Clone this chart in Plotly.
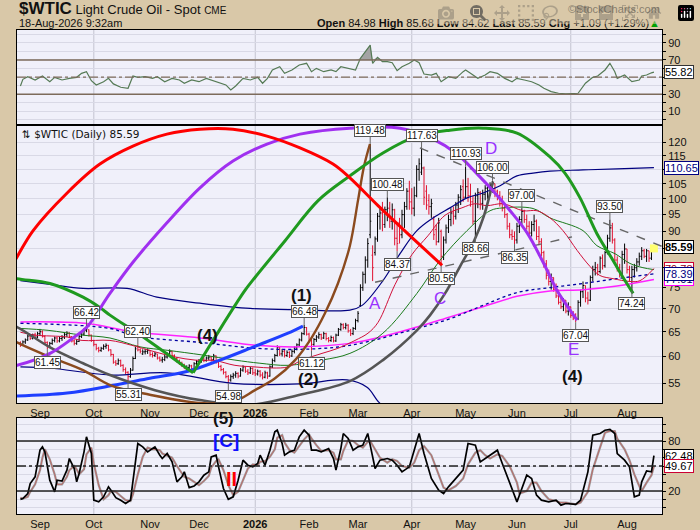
import numpy as np
import pandas as pd
import plotly.graph_objects as go

# trading days on the chart (bar index 0 = 20-Aug-2025)
dates = pd.bdate_range('2025-08-20', '2026-08-18')

opens = [
    62.7, 62.3, 62.9, 63.3, 64.1, 63.7, 64.3, 63.9, 64.6, 65.0,
    64.0, 62.8, 62.0, 62.6, 63.2, 63.7, 63.1, 63.6, 63.9, 64.4,
    64.7, 64.0, 63.1, 62.6, 63.0, 64.0, 64.5, 65.3, 65.4, 64.3,
    63.2, 62.4, 61.6, 61.2, 61.6, 62.0, 62.2, 61.3, 60.4, 58.9,
    58.6, 59.2, 58.3, 57.5, 57.0, 56.2, 57.4, 59.6, 62.0, 61.3,
    60.5, 60.9, 61.0, 61.2, 60.4, 60.2, 60.5, 59.7, 59.3, 59.4,
    59.9, 60.4, 61.0, 60.2, 59.6, 59.1, 58.7, 58.3, 57.6, 57.9,
    58.2, 57.6, 58.6, 59.0, 59.2, 59.5, 59.2, 59.7, 59.9, 59.4,
    60.1, 58.9, 58.1, 57.5, 57.0, 56.2, 55.6, 56.2, 56.5, 56.8,
    56.3, 57.4, 58.0, 57.2, 56.9, 57.7, 56.9, 56.7, 57.2, 56.5,
    56.1, 56.9, 56.3, 58.0, 59.2, 60.2, 61.8, 60.5, 61.0, 60.2,
    60.8, 60.1, 61.0, 61.7, 62.3, 63.3, 64.6, 65.9, 64.5, 63.2,
    62.4, 63.4, 63.9, 64.4, 63.7, 64.6, 63.6, 63.2, 63.8, 63.1,
    64.3, 65.5, 66.5, 65.9, 66.4, 65.2, 64.6, 65.7, 67.4, 70.8,
    75.0, 78.3, 82.0, 89.0, 83.3, 84.0, 87.8, 94.5, 95.5, 92.0,
    96.5, 97.0, 93.0, 96.5, 88.0, 92.5, 89.0, 95.0, 97.5, 102.5,
    99.0, 97.0, 101.0, 110.0, 109.0, 110.5, 102.5, 99.5, 97.5, 93.5,
    90.5, 87.0, 90.0, 83.0, 87.5, 91.0, 93.5, 95.5, 94.5, 98.0,
    100.5, 104.0, 100.5, 104.0, 101.0, 99.0, 93.0, 101.0, 102.0, 98.5,
    101.5, 103.5, 104.0, 104.5, 105.0, 102.5, 101.0, 98.5, 97.0, 95.0,
    91.5, 89.0, 88.5, 87.5, 91.5, 93.5, 96.0, 93.5, 91.5, 89.5,
    92.0, 93.0, 88.5, 87.0, 84.0, 81.0, 78.0, 76.5, 77.5, 74.5,
    73.0, 71.5, 70.5, 72.0, 69.5, 70.5, 68.5, 68.0, 67.8, 71.5,
    74.0, 75.5, 72.5, 72.0, 77.5, 79.5, 80.0, 79.0, 82.5, 80.5,
    84.0, 88.0, 91.0, 87.5, 82.0, 80.0, 78.5, 83.5, 85.0, 79.5,
    77.5, 79.5, 80.0, 81.5, 83.0, 84.5, 83.0, 84.5, 82.5, 84.98,
]
highs = [
    63.0, 63.2, 63.6, 64.4, 64.5, 64.6, 64.8, 65.0, 65.6, 65.3,
    64.2, 63.0, 62.9, 63.6, 64.0, 63.9, 64.0, 64.3, 64.8, 65.1,
    64.9, 64.1, 63.4, 63.4, 64.3, 64.8, 65.7, 66.42, 65.5, 64.4,
    63.3, 62.5, 61.9, 61.9, 62.4, 62.6, 62.3, 61.4, 60.5, 59.3,
    59.6, 59.4, 58.5, 57.9, 57.2, 57.8, 60.0, 61.9, 62.40, 61.6,
    61.4, 61.5, 61.6, 61.2, 60.8, 60.9, 60.5, 60.0, 59.9, 60.3,
    60.8, 61.4, 61.1, 60.4, 59.9, 59.4, 59.0, 58.6, 58.3, 58.5,
    58.4, 58.9, 59.3, 59.5, 59.9, 59.8, 60.0, 60.3, 60.1, 60.5,
    60.2, 59.1, 58.4, 57.8, 57.2, 56.5, 56.6, 56.9, 57.2, 57.0,
    57.8, 58.3, 58.1, 57.6, 58.0, 57.9, 57.6, 57.5, 57.4, 57.0,
    57.3, 57.1, 58.3, 59.6, 60.5, 62.2, 61.9, 61.5, 61.3, 61.2,
    61.0, 61.4, 62.0, 62.6, 63.6, 64.9, 66.48, 66.0, 64.8, 63.6,
    63.7, 64.3, 64.9, 64.6, 65.0, 64.8, 63.9, 64.2, 64.0, 64.6,
    65.8, 66.9, 66.8, 66.9, 66.6, 65.6, 66.0, 67.8, 69.5, 75.8,
    79.0, 83.0, 88.0, 119.48, 86.0, 88.5, 95.5, 97.0, 99.0, 97.5,
    100.48, 99.0, 98.5, 96.8, 92.0, 94.0, 96.5, 99.0, 103.5, 106.0,
    103.5, 104.0, 111.5, 114.0, 117.63, 111.0, 104.5, 101.5, 100.0, 94.5,
    92.0, 94.0, 90.5, 88.5, 92.0, 95.0, 97.0, 97.5, 99.0, 101.5,
    104.5, 106.5, 110.93, 107.0, 105.0, 101.0, 102.0, 103.5, 102.5, 103.0,
    104.5, 105.0, 105.5, 106.0, 105.0, 103.0, 102.5, 101.0, 98.5, 95.5,
    92.5, 90.5, 90.0, 92.5, 94.5, 97.0, 96.5, 95.0, 93.0, 93.0,
    95.0, 93.5, 91.5, 88.0, 84.5, 82.0, 79.5, 78.5, 77.5, 76.0,
    74.5, 73.0, 72.5, 72.0, 71.5, 70.5, 69.5, 69.0, 72.0, 74.5,
    76.5, 75.5, 74.0, 78.0, 80.5, 81.5, 81.0, 83.0, 83.5, 84.5,
    89.0, 93.50, 92.5, 88.0, 83.0, 81.0, 84.5, 86.5, 85.0, 80.5,
    80.5, 81.0, 82.5, 84.0, 85.5, 85.0, 85.0, 84.5, 85.0, 85.68,
]
lows = [
    61.9, 62.1, 62.5, 63.1, 63.3, 63.4, 63.6, 63.7, 64.2, 63.8,
    62.5, 61.45, 61.8, 62.3, 62.8, 62.7, 62.8, 63.1, 63.5, 63.9,
    63.7, 62.8, 62.2, 62.3, 62.9, 63.7, 64.2, 64.9, 64.0, 62.9,
    62.0, 61.2, 60.8, 60.9, 61.3, 61.5, 61.0, 60.0, 58.6, 58.2,
    58.4, 58.0, 57.1, 56.6, 55.31, 56.0, 57.3, 59.5, 61.0, 60.6,
    60.3, 60.4, 60.5, 60.0, 59.8, 59.9, 59.4, 59.0, 58.8, 59.1,
    59.6, 60.2, 59.9, 59.3, 58.8, 58.4, 58.0, 57.6, 57.2, 57.3,
    57.2, 57.5, 58.2, 58.6, 58.8, 58.9, 59.0, 59.3, 59.0, 59.3,
    58.6, 57.8, 57.2, 56.6, 55.9, 54.98, 55.3, 55.8, 56.0, 55.9,
    56.2, 57.1, 56.9, 56.5, 56.7, 56.5, 56.3, 56.4, 56.1, 55.7,
    55.9, 55.8, 56.2, 57.8, 58.9, 60.0, 60.1, 60.0, 59.8, 59.9,
    59.7, 59.9, 60.6, 61.2, 62.0, 63.0, 64.3, 64.2, 62.8, 61.12,
    62.1, 62.9, 63.5, 63.3, 63.5, 63.2, 62.8, 62.9, 62.8, 62.9,
    64.1, 65.2, 65.5, 65.5, 64.8, 64.1, 64.3, 65.4, 67.0, 70.5,
    74.2, 76.0, 80.0, 88.0, 76.6, 83.2, 87.0, 90.5, 90.0, 91.0,
    93.0, 91.0, 90.5, 86.0, 84.37, 86.5, 88.0, 91.0, 96.5, 96.5,
    95.0, 94.5, 100.5, 106.0, 108.0, 98.0, 96.5, 95.0, 94.0, 87.5,
    86.0, 86.8, 80.56, 82.0, 86.5, 89.5, 91.5, 92.0, 93.5, 95.5,
    98.0, 99.0, 100.0, 99.0, 97.5, 92.0, 88.66, 97.0, 96.5, 96.5,
    99.5, 100.0, 101.0, 102.0, 100.5, 99.5, 97.5, 96.0, 94.0, 90.5,
    88.0, 87.5, 86.35, 86.5, 89.5, 92.0, 92.5, 90.5, 88.5, 88.5,
    90.0, 87.5, 86.0, 83.0, 80.0, 77.0, 75.5, 74.5, 74.0, 72.5,
    71.0, 70.0, 69.5, 69.0, 68.5, 68.0, 67.5, 67.04, 67.5, 70.5,
    72.5, 71.5, 71.0, 71.8, 76.5, 78.0, 78.0, 78.5, 79.5, 80.0,
    83.5, 87.0, 86.5, 81.0, 79.0, 77.5, 78.0, 81.0, 78.5, 76.5,
    74.24, 77.5, 79.0, 80.5, 82.0, 82.5, 81.5, 81.5, 82.0, 84.62,
]
closes = [
    62.2, 62.9, 63.3, 64.1, 63.6, 64.3, 63.9, 64.6, 65.0, 64.0,
    62.8, 62.0, 62.6, 63.2, 63.7, 63.1, 63.6, 63.9, 64.4, 64.7,
    64.0, 63.1, 62.6, 63.0, 64.0, 64.5, 65.3, 65.6, 64.3, 63.2,
    62.4, 61.6, 61.2, 61.6, 62.0, 62.2, 61.3, 60.4, 58.9, 58.6,
    59.2, 58.3, 57.5, 57.0, 56.2, 57.4, 59.6, 61.5, 61.3, 61.0,
    60.9, 61.0, 61.2, 60.4, 60.2, 60.5, 59.7, 59.3, 59.4, 59.9,
    60.4, 61.0, 60.2, 59.6, 59.1, 58.7, 58.3, 58.0, 57.9, 58.2,
    57.6, 58.6, 59.0, 59.2, 59.5, 59.2, 59.7, 59.9, 59.4, 60.1,
    58.9, 58.1, 57.5, 57.0, 56.2, 55.6, 56.2, 56.5, 56.8, 56.3,
    57.4, 58.0, 57.2, 56.9, 57.7, 56.9, 56.7, 57.2, 56.5, 56.1,
    56.9, 56.3, 58.0, 59.2, 60.2, 61.8, 60.5, 61.0, 60.2, 60.8,
    60.1, 61.0, 61.7, 62.3, 63.3, 64.6, 65.9, 64.5, 63.2, 62.4,
    63.4, 63.9, 64.4, 63.7, 64.6, 63.6, 63.2, 63.8, 63.1, 64.3,
    65.5, 66.5, 65.9, 66.4, 65.2, 64.6, 65.7, 67.4, 69.0, 75.0,
    78.3, 82.0, 86.5, 93.0, 80.0, 87.8, 94.5, 95.5, 92.0, 96.5,
    97.0, 93.0, 96.5, 88.0, 86.5, 89.0, 95.0, 97.5, 102.5, 99.0,
    97.0, 101.0, 110.0, 112.0, 110.5, 100.5, 98.0, 97.5, 98.5, 89.0,
    87.0, 92.5, 83.0, 87.5, 91.0, 93.5, 95.5, 94.5, 98.0, 100.5,
    103.0, 100.5, 104.0, 101.0, 99.0, 93.0, 101.0, 102.0, 98.5, 101.5,
    103.5, 104.0, 104.5, 105.0, 101.5, 101.0, 98.5, 97.0, 95.0, 91.5,
    89.0, 88.5, 87.5, 91.5, 93.5, 96.0, 93.5, 91.5, 89.5, 92.0,
    93.0, 88.5, 87.0, 84.0, 81.0, 78.0, 76.5, 77.5, 74.5, 73.0,
    71.5, 70.5, 72.0, 69.5, 70.5, 68.5, 68.0, 67.8, 71.5, 74.0,
    75.5, 72.5, 72.0, 77.5, 79.5, 80.0, 79.0, 82.5, 80.5, 84.0,
    88.0, 91.0, 87.5, 82.0, 80.0, 78.5, 83.5, 85.0, 79.5, 77.5,
    79.5, 80.0, 81.5, 83.0, 84.5, 83.0, 84.5, 82.5, 84.5, 85.59,
]

# overlays, read at bar positions
ma_red_x = [0, 6, 19.1, 25.2, 36.6, 45.6, 55.0, 63.2, 71.4, 79.6, 87.7, 95.9, 102.9, 109.4, 115.1, 123.3,
            129.8, 136.8, 142.1, 146.2, 153.2, 160.1, 166.6, 173.6, 180.5, 185.8, 190.7, 197.3, 205.5,
            211.2, 216.5, 221.8, 227.6, 232.9, 236.9, 242.3, 249.2, 253.3, 259]
ma_red_y = [64.9, 64.3, 63.9, 63.2, 63.2, 62.2, 60.9, 59.9, 59.3, 59.2, 58.3, 58.0, 57.8, 58.0, 59.3, 60.6,
            61.6, 63.2, 64.7, 67.0, 75.8, 83.5, 88.7, 94.8, 97.1, 98.4, 97.8, 98.4, 96.2,
            96.2, 94.0, 90.2, 84.6, 80.3, 78.0, 77.2, 76.5, 76.7, 79.8]
ma_green_x = [0, 11.3, 25.2, 36.6, 48.9, 60.3, 74.2, 87.7, 97.9, 109.4, 123.3, 134.7, 148.2, 162.1, 171.5,
              182.6, 192.0, 197.3, 209.6, 216.5, 230.0, 235.7, 243.1, 249.2, 254.5, 259]
ma_green_y = [65.7, 65.3, 64.3, 63.7, 61.9, 61.2, 60.3, 59.3, 58.7, 58.3, 59.3, 60.6, 64.7, 73.6, 81.9,
              90.2, 96.2, 97.1, 96.9, 94.0, 90.2, 85.9, 83.7, 81.1, 80.0, 79.5]
ma_mag_x = [0, 26.4, 46.0, 73.4, 96.7, 114.3, 134.7, 148.2, 162.1, 175.6, 189.1, 203.0, 216.5, 230.0, 243.9, 259]
ma_mag_y = [67.1, 66.8, 65.0, 63.7, 62.2, 61.9, 62.6, 64.0, 66.0, 68.2, 70.5, 72.9, 74.2, 74.5, 75.4, 77.0]
ma_dot_x = [0, 36.6, 46.8, 73.4, 96.7, 114.3, 134.7, 162.1, 175.6, 189.1, 203.0, 216.5, 230.0, 243.9, 259]
ma_dot_y = [66.8, 65.7, 64.1, 62.8, 61.6, 61.4, 62.2, 65.7, 67.8, 70.8, 73.8, 75.0, 76.0, 77.2, 78.4]
band_up_x = [0, 12.1, 25.6, 43.6, 55.8, 73.4, 93.9, 114.3, 134.7, 139.7, 148.2, 155.2, 162.1, 168.7, 175.6,
             182.6, 189.1, 196.1, 203.0, 209.6, 216.5, 230.0, 243.9, 259]
band_up_y = [76.7, 75.8, 74.8, 74.8, 72.7, 71.3, 70.1, 69.8, 69.7, 70.8, 76.7, 83.7, 90.2, 94.0, 97.1,
             100.3, 101.9, 104.3, 107.7, 108.7, 109.4, 109.8, 110.2, 110.65]
band_lo_x = [0, 12.1, 36.6, 59.9, 86.9, 114.3, 133.5, 141.7, 145.8, 149.1, 153.0]
band_lo_y = [58.0, 57.8, 56.5, 56.9, 55.0, 54.9, 55.6, 54.3, 52.1, 50.5, 47.2]

# hand drawn cycle arcs and trend lines
red_arc_x = [-8.3, -2.2, 5.2, 19.1, 32.5, 46.0, 59.9, 73.4, 86.9, 100.8, 114.3, 127.8, 134.7, 146.2, 160.1, 172.4]
red_arc_y = [75.5, 81.9, 90.2, 101.9, 111.9, 118.6, 123.3, 125.3, 125.3, 122.5, 117.9, 111.9, 107.0, 97.8, 88.2, 80.6]
purple_arc_x = [-8.3, -1.4, 12.1, 21.5, 27.2, 36.6, 46.0, 59.9, 73.4, 86.9, 100.8, 114.3, 134.7, 155.2, 168.7,
                178.5, 186.7, 193.2, 200.2, 207.1, 213.7, 219.4, 224.7, 227.6]
purple_arc_y = [57.8, 58.3, 60.6, 63.7, 66.0, 73.6, 81.4, 92.5, 103.6, 113.0, 119.4, 123.3, 125.7, 125.7, 121.3,
                115.6, 108.4, 102.6, 96.2, 89.6, 81.4, 74.3, 69.7, 67.5]
green_a_x = [-8.3, -1.4, 12.1, 25.6, 32.5, 36.6, 52.2, 70.6]
green_a_y = [78.2, 77.2, 76.0, 72.7, 70.3, 68.6, 63.2, 56.9]
green_b_x = [70.6, 79.6, 91.8, 95.9, 108.2, 121.7, 134.7, 148.2, 162.1, 175.6, 189.1, 203.0, 216.5, 222.6,
             228.8, 235.7, 242.3, 246.4, 250.5]
green_b_y = [56.9, 63.9, 74.3, 77.5, 87.3, 99.4, 107.7, 116.0, 122.5, 124.9, 125.7, 123.7, 114.5, 108.7,
             100.3, 89.3, 81.9, 77.5, 73.6]
gray_arc_x = [-8.3, -1.4, 12.1, 25.6, 36.6, 55.0, 73.4, 93.9, 114.3, 134.7, 148.2, 162.1, 167.5, 173.6, 179.7,
              185.5, 189.5, 193.2]
gray_arc_y = [67.5, 66.0, 61.8, 58.7, 56.5, 53.8, 52.1, 51.3, 53.0, 55.4, 59.3, 65.3, 68.6, 73.6, 80.3,
              87.3, 94.6, 105.8]
brown_arc_x = [-8.3, -1.4, 12.1, 25.6, 36.6, 52.9, 73.4, 86.9, 95.9, 104.1, 112.3, 119.2, 124.5, 129.8, 134.7,
               138.0, 140.5, 142.9]
brown_arc_y = [64.9, 62.8, 59.9, 57.4, 54.7, 53.0, 51.6, 51.8, 53.8, 55.9, 59.3, 63.9, 69.0, 76.0, 85.9,
               99.4, 111.2, 119.4]
blue_x = [-1.4, 19.1, 38.7, 52.9, 68.5, 81.6, 95.9, 109.4, 115.5]
blue_y = [52.8, 53.3, 54.7, 55.9, 57.2, 59.3, 62.0, 64.7, 66.2]
trend_hi_x = [163.3, 262.3]
trend_hi_y = [117.9, 85.7]
trend_lo_x = [145.0, 225.5]
trend_lo_y = [76.3, 88.4]

# marked highs and lows
mark_idx = [27, 11, 48, 44, 85, 116, 119, 143, 150, 154, 164, 172, 182, 193, 186, 205, 202, 241, 227, 250]
mark_val = [66.42, 61.45, 62.40, 55.31, 54.98, 66.48, 61.12, 119.48, 100.48, 84.37, 117.63, 80.56,
            110.93, 106.00, 88.66, 97.00, 86.35, 93.50, 67.04, 74.24]
mark_side = ['hi', 'lo', 'hi', 'lo', 'lo', 'hi', 'lo', 'hi', 'hi', 'lo', 'hi', 'lo',
             'hi', 'hi', 'lo', 'hi', 'lo', 'hi', 'lo', 'lo']

# RSI (top panel)
rsi_idx = [0, 1, 3, 6, 9, 12, 14, 17, 20, 23, 25, 27, 29, 31, 34, 36, 38, 41, 44, 46, 48, 51, 54, 56, 59, 62, 65,
           67, 70, 73, 76, 78, 81, 84, 86, 88, 91, 94, 97, 99, 101, 103, 106, 108, 111, 114, 117, 119, 121, 124,
           127, 129, 131, 134, 137, 139, 140, 143, 144, 146, 148, 150, 152, 154, 156, 159, 161, 163, 165, 168,
           170, 172, 175, 178, 181, 182, 184, 187, 190, 192, 195, 198, 201, 203, 206, 209, 212, 214, 217, 220,
           223, 225, 228, 231, 234, 236, 239, 241, 243, 244, 247, 250, 253, 254, 256, 258, 259]
rsi_val = [39.6, 47.4, 50.5, 46.6, 51.3, 44.6, 49.7, 46.6, 48.5, 49.7, 54.4, 56.3, 45.8, 40.8, 44.6, 48.5, 42.0,
           38.1, 36.9, 51.3, 49.7, 50.5, 48.5, 50.5, 44.6, 48.5, 46.6, 42.8, 46.6, 44.6, 48.5, 46.6, 43.5, 40.8,
           35.0, 39.6, 48.5, 46.6, 49.7, 42.8, 48.5, 58.3, 62.1, 54.4, 58.3, 64.1, 66.1, 56.3, 60.2, 56.3, 58.3,
           56.3, 62.1, 60.2, 58.3, 71.9, 75.8, 87.4, 66.1, 73.1, 68.0, 68.0, 66.8, 57.5, 62.1, 66.1, 69.9, 66.8,
           53.6, 52.4, 54.4, 44.6, 50.5, 48.5, 56.3, 58.3, 54.4, 48.5, 52.4, 56.3, 54.4, 48.5, 44.6, 48.5, 46.6,
           44.6, 40.8, 36.9, 33.0, 31.1, 30.3, 30.3, 31.1, 42.8, 49.7, 51.3, 58.3, 66.1, 56.3, 48.5, 52.4, 44.6,
           46.6, 51.3, 52.4, 55.0, 55.82]

# slow stochastic (bottom panel)
stoch_idx = [0, 1, 3, 4, 6, 8, 9, 10, 12, 14, 15, 17, 19, 20, 22, 23, 24, 26, 27, 29, 30, 32, 34, 36, 37, 39, 41,
             43, 45, 46, 48, 50, 52, 54, 55, 57, 58, 60, 62, 64, 66, 67, 69, 71, 73, 75, 77, 78, 80, 81, 83, 85,
             87, 89, 91, 93, 95, 97, 98, 100, 102, 104, 105, 107, 108, 110, 112, 114, 116, 118, 119, 121, 123,
             126, 128, 129, 131, 132, 134, 136, 138, 140, 142, 143, 145, 147, 150, 152, 154, 156, 159, 161, 163,
             165, 168, 171, 173, 175, 178, 181, 183, 186, 188, 190, 192, 195, 197, 200, 203, 204, 207, 209, 211,
             213, 216, 219, 221, 223, 227, 229, 232, 234, 237, 239, 241, 243, 244, 247, 249, 251, 253, 254, 256,
             258, 259]
stoch_k = [10, 11, 17, 29, 37, 69, 73, 67, 33, 19, 33, 32, 45, 59, 47, 31, 41, 67, 85, 65, 9, 7, 13, 25, 21, 12,
           9, 5, 9, 33, 77, 73, 67, 71, 73, 63, 59, 65, 55, 31, 37, 43, 24, 26, 31, 39, 43, 61, 63, 49, 23, 10,
           13, 33, 57, 51, 49, 53, 63, 51, 69, 91, 93, 77, 63, 67, 69, 85, 93, 87, 69, 69, 67, 71, 59, 45, 71,
           89, 83, 69, 73, 75, 89, 75, 47, 57, 59, 57, 51, 43, 49, 69, 89, 65, 35, 21, 17, 25, 35, 45, 77, 75,
           55, 59, 63, 69, 53, 29, 7, 15, 39, 35, 15, 9, 7, 9, 3, 5, 4, 9, 43, 87, 89, 93, 94, 89, 65, 57, 49,
           13, 15, 31, 44, 43, 62.48]
stoch_d = [12, 11, 13, 19, 28, 45, 60, 70, 58, 40, 28, 28, 37, 45, 50, 46, 40, 46, 64, 72, 53, 27, 10, 15, 20,
           19, 14, 9, 8, 16, 40, 61, 72, 70, 70, 69, 65, 62, 60, 50, 41, 37, 35, 31, 27, 32, 38, 48, 56, 58, 45,
           27, 15, 19, 34, 47, 52, 51, 55, 56, 61, 70, 84, 87, 78, 69, 66, 74, 82, 88, 83, 75, 68, 69, 66, 58,
           58, 68, 81, 80, 75, 72, 79, 80, 70, 60, 54, 58, 56, 50, 48, 54, 69, 74, 63, 40, 24, 21, 26, 35, 52,
           66, 69, 63, 59, 64, 62, 50, 30, 17, 20, 30, 30, 20, 10, 8, 6, 6, 4, 6, 19, 46, 73, 90, 92, 92, 83,
           70, 57, 40, 26, 20, 30, 39, 49.67]

price_ticks = list(range(55, 121, 5))
price_tick_text = ['' if v in (80, 85, 110) else str(v) for v in price_ticks]

month_ticks, month_text = [], []
for i in range(1, len(dates)):
    if dates[i].month != dates[i - 1].month:
        month_ticks.append(i)
        month_text.append('<b>2026</b>' if dates[i].month == 1 else dates[i].strftime('%b'))
quarter_ticks = [i for i in month_ticks if dates[i].month in (1, 4, 7, 10)]

FONT = 'Liberation Sans, Arial, sans-serif'
x_range = [-1.4, 262.3]

fig = go.Figure()


def main_line(x, y, color, width, dash='solid', shape='spline'):
    fig.add_trace(go.Scatter(
        x=x, y=y, mode='lines', xaxis='x2', yaxis='y2',
        line={'color': color, 'width': width, 'dash': dash, 'shape': shape},
        hoverinfo='skip',
    ))


main_line(band_lo_x, band_lo_y, '#000080', 1.2)
main_line(band_up_x, band_up_y, '#000080', 1.2)
main_line(ma_mag_x, ma_mag_y, '#ff22ff', 1.5)
main_line(ma_dot_x, ma_dot_y, '#0000a0', 1.3, dash='dot')
main_line(ma_green_x, ma_green_y, '#1a7a1a', 1)
main_line(ma_red_x, ma_red_y, '#d0103a', 1)

# highlight behind the last bar
fig.add_trace(go.Scatter(
    x=[len(dates) - 1], y=[(highs[-1] + lows[-1]) / 2], mode='markers', xaxis='x2', yaxis='y2',
    marker={'symbol': 'square', 'size': 8, 'color': '#ffff70', 'line': {'width': 0}},
    hoverinfo='skip',
))
fig.add_trace(go.Ohlc(
    x=list(range(len(dates))), open=opens, high=highs, low=lows, close=closes,
    xaxis='x2', yaxis='y2', tickwidth=0.45,
    increasing={'line': {'color': '#000000', 'width': 1}},
    decreasing={'line': {'color': '#e0102f', 'width': 1}},
    hoverinfo='skip',
))

main_line(trend_hi_x, trend_hi_y, '#666666', 1.4, dash='dash', shape='linear')
main_line(trend_lo_x, trend_lo_y, '#666666', 1.4, dash='dash', shape='linear')
main_line(blue_x, blue_y, '#1f3fff', 3)
main_line(gray_arc_x, gray_arc_y, '#555555', 2.6)
main_line(brown_arc_x, brown_arc_y, '#8b4a1e', 2.4)
main_line(green_a_x, green_a_y, '#1f9a1f', 3)
main_line(green_b_x, green_b_y, '#1f9a1f', 3)
main_line(purple_arc_x, purple_arc_y, '#a030f0', 3)
main_line(red_arc_x, red_arc_y, '#ff0000', 3)

# RSI with shading above 70
rsi_x = np.array(rsi_idx)
rsi_y = np.array(rsi_val)
hot = (rsi_x >= 137) & (rsi_x <= 163)
fig.add_trace(go.Scatter(x=rsi_x[hot], y=[70] * int(hot.sum()), mode='lines',
                         line={'width': 0}, hoverinfo='skip'))
fig.add_trace(go.Scatter(x=rsi_x[hot], y=np.maximum(rsi_y[hot], 70), mode='lines', fill='tonexty',
                         fillcolor='#a4a4a4', line={'width': 0}, hoverinfo='skip'))
fig.add_trace(go.Scatter(x=rsi_idx, y=rsi_val, mode='lines', line={'color': '#557a55', 'width': 1.2},
                         hoverinfo='skip'))

# stochastic
fig.add_trace(go.Scatter(x=stoch_idx, y=stoch_d, mode='lines', xaxis='x3', yaxis='y3',
                         line={'color': '#9c9c9c', 'width': 2.2}, hoverinfo='skip'))
fig.add_trace(go.Scatter(x=stoch_idx, y=stoch_d, mode='lines', xaxis='x3', yaxis='y3',
                         line={'color': '#d04848', 'width': 0.6}, hoverinfo='skip'))
fig.add_trace(go.Scatter(x=stoch_idx, y=stoch_k, mode='lines', xaxis='x3', yaxis='y3',
                         line={'color': '#000000', 'width': 1.7}, hoverinfo='skip'))

shapes = []
for ref_x, ref_y in [('x', 'y'), ('x2', 'y2'), ('x3', 'y3')]:
    for q in quarter_ticks:
        shapes.append(dict(type='line', xref=ref_x, yref=ref_y + ' domain', x0=q, x1=q, y0=0, y1=1,
                           layer='below', line={'color': '#c4c4d0', 'width': 1}))
for lvl, dash in [(70, 'solid'), (30, 'solid'), (50, 'dashdot')]:
    shapes.append(dict(type='line', xref='x domain', yref='y', x0=0, x1=1, y0=lvl, y1=lvl,
                       line={'color': '#7d6b5b', 'width': 1.4, 'dash': dash}))
for lvl, dash in [(80, 'solid'), (20, 'solid'), (50, 'dashdot')]:
    shapes.append(dict(type='line', xref='x3 domain', yref='y3', x0=0, x1=1, y0=lvl, y1=lvl,
                       line={'color': '#222222', 'width': 1.3, 'dash': dash}))

annotations = []
for i, v, side in zip(mark_idx, mark_val, mark_side):
    annotations.append(dict(
        x=i, y=np.log10(v), xref='x2', yref='y2', text=f'{v:.2f}',
        showarrow=True, arrowhead=0, arrowwidth=1, arrowcolor='#666666',
        ax=0, ay=-13 if side == 'hi' else 13,
        bgcolor='white', bordercolor='#555555', borderwidth=1, borderpad=0,
        font={'size': 10, 'color': '#111111'},
    ))

wave_labels = [
    ('(3)', 142.1, 132.0, 'y2', '#111111', 17, True),
    ('B', 161.7, 129.4, 'y2', '#9932ff', 17, False),
    ('D', 192.4, 117.6, 'y2', '#9932ff', 17, False),
    ('A', 145.0, 71.3, 'y2', '#9932ff', 17, False),
    ('C', 171.5, 72.5, 'y2', '#9932ff', 17, False),
    ('E', 226.3, 61.4, 'y2', '#9932ff', 17, False),
    ('(4)', 225.9, 56.3, 'y2', '#111111', 17, True),
    ('(1)', 115.1, 73.2, 'y2', '#111111', 17, True),
    ('(2)', 117.6, 55.6, 'y2', '#111111', 17, True),
    ('(4)', 76.3, 64.3, 'y2', '#111111', 17, True),
    ('(3)', 43.6, 51.3, 'y2', '#111111', 17, True),
    ('(5)', 83.2, 106.5, 'y3', '#111111', 17, True),
    ('[C]', 84.1, 80.1, 'y3', '#1010ff', 19, True),
    ('II', 86.1, 34.5, 'y3', '#ff0000', 20, True),
]
for text, x, y, yref, color, size, bold in wave_labels:
    annotations.append(dict(
        x=x, y=np.log10(y) if yref == 'y2' else y, xref='x2' if yref == 'y2' else 'x3', yref=yref,
        text=f'<b>{text}</b>' if bold else text, showarrow=False,
        font={'size': size, 'color': color, 'family': FONT},
    ))

tags = [
    (110.65, 'y2', '#000080', '#000080', False),
    (85.59, 'y2', '#000000', '#000000', True),
    (79.78, 'y2', '#cc0033', '#990022', False),
    (77.01, 'y2', '#ff00ff', '#000060', False),
    (78.39, 'y2', '#000080', '#000080', False),
    (55.82, 'y', '#333333', '#000000', False),
    (62.48, 'y3', '#000000', '#000000', False),
    (49.67, 'y3', '#cc0033', '#000000', False),
]
for v, yref, border, color, bold in tags:
    annotations.append(dict(
        x=1, xref='paper', xanchor='left', xshift=2,
        y=np.log10(v) if yref == 'y2' else v, yref=yref,
        text=f'<b>{v:.2f}</b>' if bold else f'{v:.2f}', showarrow=False,
        bgcolor='white', bordercolor=border, borderwidth=1, borderpad=0,
        font={'size': 11, 'color': color},
    ))

annotations += [
    dict(x=0, y=1.044, xref='paper', yref='paper', xanchor='left', yanchor='middle', showarrow=False,
         text="<span style='font-size:17px'><b>$WTIC</b></span> Light Crude Oil - Spot "
              "<span style='font-size:10px'>CME</span>",
         font={'size': 13, 'color': '#111111'}),
    dict(x=0, y=1.0145, xref='paper', yref='paper', xanchor='left', yanchor='middle', showarrow=False,
         text='18-Aug-2026 9:32am', font={'size': 11, 'color': '#111111'}),
    dict(x=1, y=1.044, xref='paper', yref='paper', xanchor='right', yanchor='middle', showarrow=False,
         text='©StockCharts.com', font={'size': 11, 'color': '#333333'}),
    dict(x=1, y=1.0135, xref='paper', yref='paper', xanchor='right', yanchor='middle', showarrow=False,
         text="<b>Open</b> 84.98 <b>High</b> 85.68 <b>Low</b> 84.62 <b>Last</b> 85.59 "
              "<b>Chg</b> +1.09 (+1.29%)<span style='color:#00a000'>▲</span>",
         font={'size': 11, 'color': '#111111'}),
    dict(x=0.004, y=0.995, xref='x2 domain', yref='y2 domain', xanchor='left', yanchor='top',
         showarrow=False, text='⇅ $WTIC (Daily) 85.59',
         font={'size': 10.5, 'color': '#111111', 'family': 'DejaVu Sans'}),
]

axis_line = {'showline': True, 'mirror': True, 'linecolor': '#000000', 'linewidth': 1, 'zeroline': False,
             'automargin': False}
x_common = dict(range=x_range, tickvals=month_ticks, ticktext=month_text, showgrid=False, ticks='',
                tickfont={'size': 11, 'color': '#111111'}, **axis_line)
y_common = dict(side='right', ticks='outside', ticklen=3, tickcolor='#000000', gridcolor='#d9d9e6',
                tickfont={'size': 11, 'color': '#111111'}, **axis_line)

fig.update_layout(
    width=700, height=530,
    margin={'l': 17, 'r': 38, 't': 30, 'b': 16, 'autoexpand': False},
    paper_bgcolor='#d9c8a8',
    plot_bgcolor='#f0f0fa',
    font={'family': FONT, 'size': 11, 'color': '#111111'},
    showlegend=False,
    hovermode=False,
    xaxis=dict(anchor='y', showticklabels=False, **x_common),
    xaxis2=dict(anchor='y2', matches='x', rangeslider={'visible': False}, **x_common),
    xaxis3=dict(anchor='y3', matches='x', **x_common),
    yaxis=dict(domain=[0.8037, 1.0], range=[-6, 105], tickvals=list(range(0, 101, 10)),
               ticktext=['', '10', '', '30', '', '', '', '70', '', '90', ''], **y_common),
    yaxis2=dict(domain=[0.2293, 0.8037], type='log', range=[np.log10(51.6), np.log10(127)],
                tickvals=price_ticks, ticktext=price_tick_text, **y_common),
    yaxis3=dict(domain=[0, 0.1983], range=[-7.6, 107.6], tickvals=list(range(0, 101, 10)),
                ticktext=['', '', '20', '', '', '', '', '', '80', '', ''], **y_common),
    shapes=shapes,
    annotations=annotations,
)

fig.write_html('out.html', post_script="document.body.style.margin='0';")
